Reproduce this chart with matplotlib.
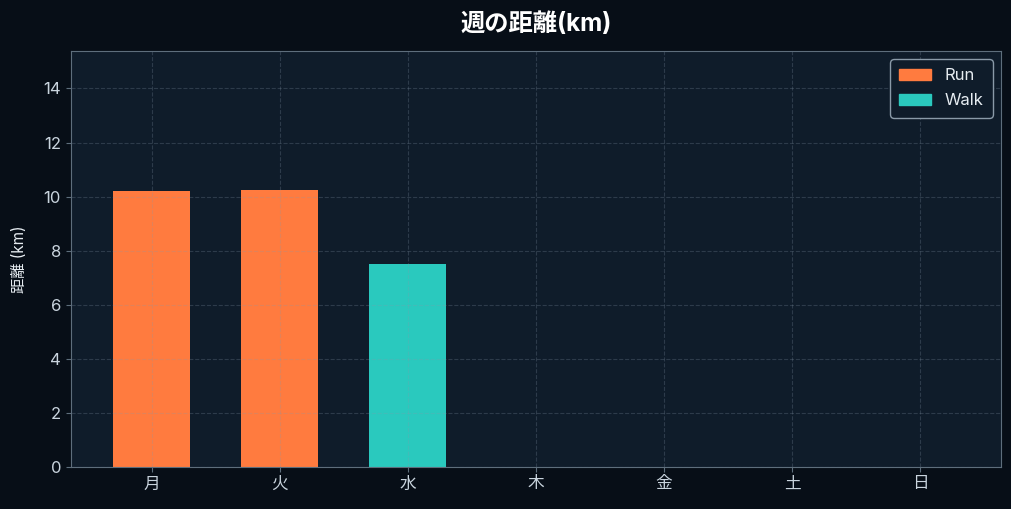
import matplotlib
matplotlib.use("Agg")
import matplotlib.pyplot as plt
from matplotlib.patches import Patch

plt.rcParams['font.family'] = ['Inter', 'Noto Sans CJK JP', 'DejaVu Sans']

# Data
days = ["月", "火", "水", "木", "金", "土", "日"]
distances = [10.22, 10.26, 7.52, 0, 0, 0, 0]
activity = ["Run", "Run", "Walk", None, None, None, None]

COLORS = {"Run": "#FF7B3F", "Walk": "#2AC9BE", None: "#2AC9BE"}
FIG_BG = "#070E17"
AX_BG = "#0F1C2A"
TEXT = "#C9D4DE"
SPINE = "#5E6E7C"

fig, ax = plt.subplots(figsize=(10.12, 5.09), dpi=100)
fig.patch.set_facecolor(FIG_BG)
ax.set_facecolor(AX_BG)

bar_colors = [COLORS[a] for a in activity]
ax.bar(days, distances, width=0.6, color=bar_colors, zorder=2)

ax.set_ylim(0, max(distances) * 1.5)
# grid drawn over the bars, faint
ax.grid(True, color="#8899AA", linestyle="--", linewidth=0.8, alpha=0.25, zorder=3)
ax.set_axisbelow(False)

for side, spine in ax.spines.items():
    spine.set_color(SPINE)
    spine.set_zorder(4)
ax.tick_params(colors=SPINE, labelcolor=TEXT, labelsize=12)

ax.set_ylabel("距離 (km)", color="#E6ECF1", fontsize=11, labelpad=12)
ax.set_title("週の距離(km)", color="#FFFFFF", fontsize=17.5, fontweight="bold", pad=14)

handles = [Patch(color=COLORS["Run"], label="Run"), Patch(color=COLORS["Walk"], label="Walk")]
leg = ax.legend(handles=handles, loc="upper right", fontsize=12, labelspacing=0.6,
                borderpad=0.55, handlelength=1.9,
                facecolor=AX_BG, edgecolor="#8A9AA8", labelcolor="#E6ECF1", framealpha=1)
leg.set_zorder(5)

plt.subplots_adjust(left=0.070, right=0.989, top=0.900, bottom=0.083)
plt.savefig("out.png", dpi=100, facecolor=FIG_BG)
